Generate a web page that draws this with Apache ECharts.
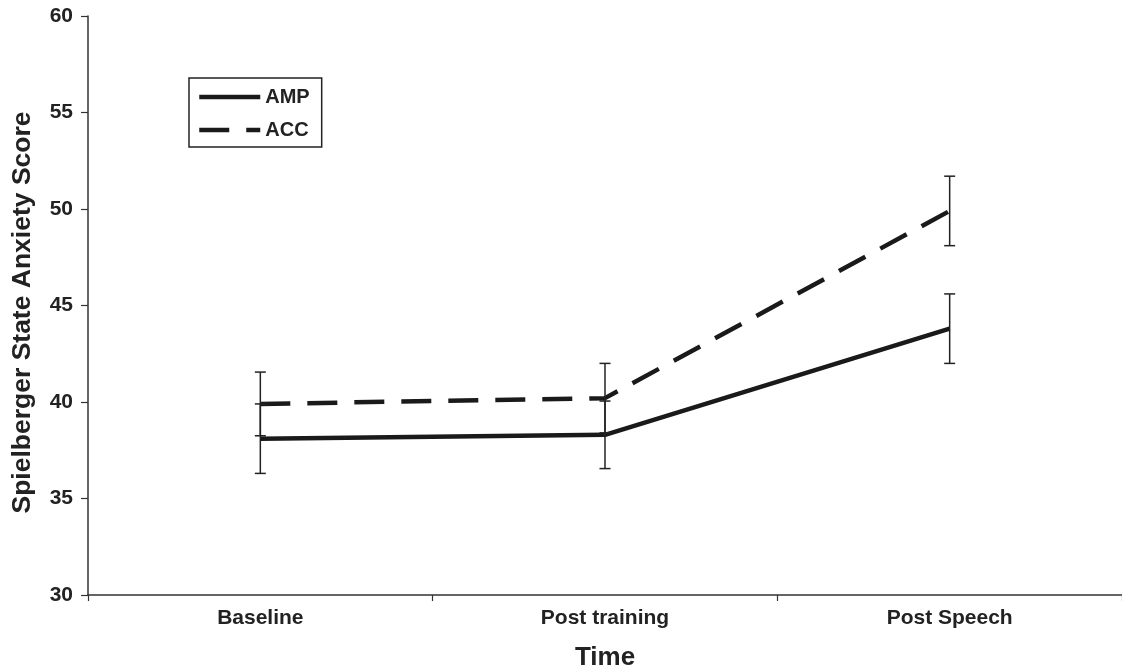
<!DOCTYPE html>
<html><head><meta charset="utf-8">
<script src="https://cdn.jsdelivr.net/npm/echarts@6/dist/echarts.min.js"></script>
<style>html,body{margin:0;padding:0;background:#fff}#c{width:1122px;height:670px}</style>
</head><body><div id="c"></div>
<script>
var categories = ['Baseline', 'Post training', 'Post Speech'];
var ampValues = [38.1, 38.3, 43.8];
var ampErrors = [1.8, 1.75, 1.8];
var accValues = [39.9, 40.2, 49.9];
var accErrors = [1.65, 1.8, 1.8];
var yTicks = [30, 35, 40, 45, 50, 55, 60];

var FONT = 'Liberation Sans, Arial, sans-serif';
function errData(vals, errs) {
  return vals.map(function (v, i) { return [i, v - errs[i], v + errs[i]]; });
}
function renderErr(params, api) {
  var x = api.value(0);
  var lo = api.coord([x, api.value(1)]);
  var hi = api.coord([x, api.value(2)]);
  var hw = 5.5;
  var st = { stroke: '#222', lineWidth: 1.5 };
  return { type: 'group', children: [
    { type: 'line', shape: { x1: lo[0], y1: lo[1], x2: hi[0], y2: hi[1] }, style: st },
    { type: 'line', shape: { x1: lo[0] - hw, y1: lo[1], x2: lo[0] + hw, y2: lo[1] }, style: st },
    { type: 'line', shape: { x1: hi[0] - hw, y1: hi[1], x2: hi[0] + hw, y2: hi[1] }, style: st }
  ]};
}
var chart = echarts.init(document.getElementById('c'));
chart.setOption({
  animation: false,
  backgroundColor: '#fff',
  grid: { left: 88, right: 0, top: 16, bottom: 75, containLabel: false, outerBoundsMode: 'none' },
  legend: {
    left: 189, top: 78, orient: 'vertical',
    data: ['AMP', 'ACC'],
    borderColor: '#222', borderWidth: 1.5,
    padding: [9, 12, 7, 8], itemGap: 13,
    itemWidth: 61, itemHeight: 14,
    itemStyle: { opacity: 0, borderWidth: 0 },
    lineStyle: { width: 4.5 },
    textStyle: { fontFamily: FONT, fontWeight: 'bold', fontSize: 20, color: '#222' }
  },
  xAxis: {
    type: 'category', data: categories, boundaryGap: true,
    axisLine: { lineStyle: { color: '#333', width: 1.5 } },
    axisTick: { show: true, interval: 0, length: 6, lineStyle: { color: '#333', width: 1.2 } },
    axisLabel: { fontFamily: FONT, fontWeight: 'bold', fontSize: 21, color: '#222', margin: 13 },
    name: 'Time', nameLocation: 'middle', nameGap: 50,
    nameTextStyle: { fontFamily: FONT, fontWeight: 'bold', fontSize: 26, color: '#222' }
  },
  yAxis: {
    type: 'value', min: yTicks[0], max: yTicks[yTicks.length - 1], interval: 5,
    splitLine: { show: false },
    axisLine: { show: true, lineStyle: { color: '#333', width: 1.5 } },
    axisTick: { show: true, length: 7, lineStyle: { color: '#333', width: 1.2 } },
    axisLabel: { fontFamily: FONT, fontWeight: 'bold', fontSize: 21, color: '#222', margin: 15 },
    name: 'Spielberger State Anxiety Score', nameLocation: 'middle', nameGap: 52,
    nameTextStyle: { fontFamily: FONT, fontWeight: 'bold', fontSize: 26.5, color: '#222', padding: [0, 14, 0, 0] }
  },
  series: [
    { name: 'AMP', type: 'line', data: ampValues, symbol: 'none', z: 3,
      lineStyle: { color: '#1a1a1a', width: 4.5, type: 'solid' }, itemStyle: { color: '#1a1a1a' } },
    { name: 'ACC', type: 'line', data: accValues, symbol: 'none', z: 3,
      lineStyle: { color: '#1a1a1a', width: 4.5, type: [30, 17] }, itemStyle: { color: '#1a1a1a' } },
    { name: 'AMP err', type: 'custom', data: errData(ampValues, ampErrors), renderItem: renderErr, z: 4 },
    { name: 'ACC err', type: 'custom', data: errData(accValues, accErrors), renderItem: renderErr, z: 4 }
  ]
});
</script></body></html>
